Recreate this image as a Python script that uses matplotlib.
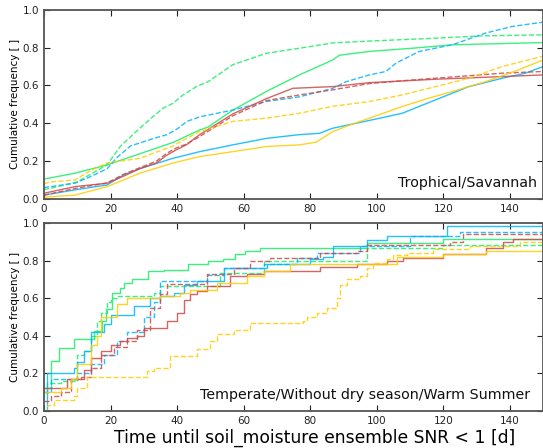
import matplotlib
matplotlib.use("Agg")
import matplotlib.pyplot as plt
import numpy as np

plt.rcParams['font.family'] = ['DejaVu Sans']

colors = {"green": "#1aee66", "blue": "#00b4ff", "red": "#cc4a4a", "yellow": "#ffcc00"}

# ---- Top panel: Trophical/Savannah (x, cumulative frequency) ----
top_green_solid_x = [0, 9.3, 19, 29, 39, 46.8, 49.3, 56.8, 66.8, 76.8, 86.8, 88.8, 97.8, 110.7, 122.7, 150]
top_green_solid_y = [0.105, 0.136, 0.18, 0.24, 0.30, 0.365, 0.38, 0.47, 0.568, 0.656, 0.735, 0.76, 0.78, 0.797, 0.815, 0.827]
top_green_dash_x = [0, 1.9, 10, 18.9, 20.4, 22.9, 24.9, 28.8, 32.8, 35.8, 38.8, 41.8, 45.8, 49.3, 56.8, 66.8, 76.8, 86.8, 97.8, 117.7, 130.7, 150]
top_green_dash_y = [0.05, 0.056, 0.09, 0.18, 0.215, 0.277, 0.31, 0.374, 0.436, 0.48, 0.506, 0.55, 0.594, 0.62, 0.71, 0.77, 0.797, 0.825, 0.835, 0.85, 0.862, 0.868]
top_blue_solid_x = [0, 9.3, 19, 23.9, 28.8, 38.8, 46.8, 56.8, 66.8, 76.8, 82.8, 86.8, 97.8, 107.7, 117.7, 127.7, 137.7, 144.7, 150]
top_blue_solid_y = [0.02, 0.048, 0.074, 0.127, 0.16, 0.215, 0.25, 0.286, 0.32, 0.34, 0.347, 0.374, 0.415, 0.453, 0.524, 0.594, 0.638, 0.665, 0.70]
top_blue_dash_x = [0, 9.3, 13, 19, 22, 26, 33, 37, 40, 43, 47, 56.8, 66.8, 76.8, 86.8, 90.8, 97.8, 102.8, 105.8, 112.8, 122.7, 132.7, 140.7, 150]
top_blue_dash_y = [0.06, 0.083, 0.11, 0.16, 0.22, 0.28, 0.32, 0.34, 0.37, 0.41, 0.435, 0.47, 0.515, 0.54, 0.585, 0.62, 0.656, 0.674, 0.718, 0.78, 0.815, 0.877, 0.912, 0.935]
top_red_solid_x = [0, 9.3, 19, 23.9, 28.8, 33.8, 36.8, 39.8, 42.8, 46.8, 56.8, 66.8, 74.8, 86.8, 97.8, 117.7, 137.7, 150]
top_red_solid_y = [0.03, 0.065, 0.083, 0.12, 0.16, 0.19, 0.23, 0.26, 0.286, 0.34, 0.45, 0.53, 0.585, 0.594, 0.615, 0.633, 0.647, 0.656]
top_red_dash_x = [0, 9.3, 19, 23.9, 28.8, 33.8, 36.8, 39.8, 42.8, 46.8, 56.8, 66.8, 76.8, 86.8, 97.8, 107.7, 137.7, 150]
top_red_dash_y = [0.02, 0.055, 0.085, 0.13, 0.165, 0.20, 0.24, 0.27, 0.29, 0.33, 0.44, 0.52, 0.55, 0.577, 0.61, 0.625, 0.665, 0.674]
top_yellow_solid_x = [0, 9.3, 19, 28.8, 38.8, 46.8, 56.8, 66.8, 76.8, 81.8, 86.8, 91.8, 97.8, 107.7, 115.7, 122.7, 132.7, 142.7, 150]
top_yellow_solid_y = [0.01, 0.02, 0.065, 0.136, 0.19, 0.224, 0.25, 0.277, 0.286, 0.30, 0.356, 0.39, 0.427, 0.489, 0.533, 0.568, 0.62, 0.683, 0.735]
top_yellow_dash_x = [0, 1.9, 9.3, 14, 19, 28.8, 38.8, 41.8, 46.8, 56.8, 66.8, 76.8, 86.8, 97.8, 107.7, 117.7, 127.7, 137.7, 150]
top_yellow_dash_y = [0.08, 0.09, 0.10, 0.15, 0.19, 0.215, 0.28, 0.31, 0.356, 0.41, 0.427, 0.453, 0.49, 0.515, 0.55, 0.594, 0.638, 0.70, 0.755]

# ---- Bottom panel: Temperate/Without dry season/Warm Summer ----
bot_green_solid_x = [0, 2, 4.5, 9, 15, 17.4, 18.5, 20.4, 23, 24, 26.4, 31.3, 36, 43.3, 49.3, 53.8, 57.3, 60.3, 64.8, 97, 120, 150]
bot_green_solid_y = [0.12, 0.265, 0.336, 0.38, 0.425, 0.48, 0.54, 0.63, 0.655, 0.68, 0.70, 0.743, 0.752, 0.782, 0.80, 0.81, 0.835, 0.85, 0.867, 0.893, 0.916, 0.916]
bot_green_dash_x = [0, 1, 5, 10, 12, 14, 16, 17, 19, 20, 22, 33, 35, 53, 66, 97, 120, 150]
bot_green_dash_y = [0.10, 0.15, 0.16, 0.30, 0.32, 0.40, 0.48, 0.52, 0.58, 0.60, 0.61, 0.63, 0.664, 0.734, 0.796, 0.867, 0.885, 0.885]
bot_blue_solid_x = [0, 1, 9, 10, 12, 14, 18, 20, 27, 32, 35, 39, 42, 46, 54, 67, 80, 84, 87, 97, 103, 121, 150]
bot_blue_solid_y = [0.0, 0.20, 0.23, 0.26, 0.32, 0.42, 0.46, 0.51, 0.56, 0.60, 0.61, 0.628, 0.672, 0.694, 0.76, 0.782, 0.81, 0.818, 0.876, 0.912, 0.93, 0.983, 0.983]
bot_blue_dash_x = [0, 2, 10, 14, 18, 22, 25, 30, 33, 35, 49, 54, 66, 76, 82, 95, 110, 125, 150]
bot_blue_dash_y = [0.10, 0.17, 0.20, 0.25, 0.30, 0.37, 0.42, 0.50, 0.58, 0.69, 0.725, 0.76, 0.782, 0.814, 0.84, 0.88, 0.93, 0.955, 0.955]
bot_red_solid_x = [0, 7, 12, 14, 17, 20, 23, 25, 28, 30, 37, 40, 42, 44, 46, 49, 56, 61, 66, 83, 94, 103, 108, 120, 133, 138, 141, 150]
bot_red_solid_y = [0.12, 0.17, 0.22, 0.28, 0.32, 0.35, 0.37, 0.39, 0.40, 0.44, 0.48, 0.52, 0.593, 0.62, 0.637, 0.664, 0.717, 0.73, 0.747, 0.765, 0.782, 0.80, 0.814, 0.835, 0.867, 0.90, 0.916, 0.916]
bot_red_dash_x = [0, 2, 5, 8, 11, 14, 17, 21, 25, 28, 32, 35, 37, 49, 57, 62, 68, 83, 94, 97, 122, 126, 150]
bot_red_dash_y = [0.05, 0.08, 0.10, 0.17, 0.18, 0.23, 0.30, 0.34, 0.37, 0.43, 0.55, 0.62, 0.676, 0.73, 0.76, 0.80, 0.814, 0.84, 0.853, 0.885, 0.90, 0.94, 0.94]
bot_yellow_solid_x = [0, 5, 8, 10, 14, 16, 17, 22, 25, 35, 41, 44, 52, 61, 66, 74, 106, 120, 133, 150]
bot_yellow_solid_y = [0.10, 0.12, 0.17, 0.25, 0.35, 0.40, 0.50, 0.57, 0.60, 0.61, 0.628, 0.646, 0.68, 0.717, 0.743, 0.78, 0.818, 0.835, 0.853, 0.853]
bot_yellow_dash_x = [0, 1, 3, 9, 10, 13, 31, 33, 38, 46, 50, 52, 57, 62, 78, 79, 82, 85, 88, 89, 91, 95, 97, 99, 103, 105, 109, 117, 128, 143, 150]
bot_yellow_dash_y = [0.0, 0.03, 0.06, 0.08, 0.12, 0.18, 0.21, 0.23, 0.29, 0.33, 0.37, 0.41, 0.43, 0.47, 0.478, 0.50, 0.52, 0.55, 0.60, 0.67, 0.70, 0.72, 0.76, 0.79, 0.81, 0.83, 0.84, 0.86, 0.88, 0.90, 0.90]

top_series = [
    (top_green_solid_x, top_green_solid_y, "green", "-"),
    (top_green_dash_x, top_green_dash_y, "green", "--"),
    (top_blue_solid_x, top_blue_solid_y, "blue", "-"),
    (top_blue_dash_x, top_blue_dash_y, "blue", "--"),
    (top_red_solid_x, top_red_solid_y, "red", "-"),
    (top_red_dash_x, top_red_dash_y, "red", "--"),
    (top_yellow_solid_x, top_yellow_solid_y, "yellow", "-"),
    (top_yellow_dash_x, top_yellow_dash_y, "yellow", "--"),
]
bot_series = [
    (bot_green_solid_x, bot_green_solid_y, "green", "-"),
    (bot_green_dash_x, bot_green_dash_y, "green", "--"),
    (bot_blue_solid_x, bot_blue_solid_y, "blue", "-"),
    (bot_blue_dash_x, bot_blue_dash_y, "blue", "--"),
    (bot_red_solid_x, bot_red_solid_y, "red", "-"),
    (bot_red_dash_x, bot_red_dash_y, "red", "--"),
    (bot_yellow_solid_x, bot_yellow_solid_y, "yellow", "-"),
    (bot_yellow_dash_x, bot_yellow_dash_y, "yellow", "--"),
]

xticks = [0, 20, 40, 60, 80, 100, 120, 140]
yticks = [0.0, 0.2, 0.4, 0.6, 0.8, 1.0]

fig = plt.figure(figsize=(5.43, 4.48), dpi=100)
ax1 = fig.add_axes([0.081, 0.556, 0.919, 0.422])
ax2 = fig.add_axes([0.081, 0.083, 0.919, 0.419])


def style(ax, label, label_x):
    ax.set_xlim(0, 150)
    ax.set_ylim(0, 1.0)
    ax.set_xticks(xticks)
    ax.set_yticks(yticks)
    ax.set_yticklabels([f"{v:.1f}" for v in yticks])
    ax.tick_params(direction="in", top=True, right=True, labelsize=7.5, length=4, colors="#222222")
    for s in ax.spines.values():
        s.set_color("#555555")
        s.set_linewidth(1.3)
    ax.set_ylabel("Cumulative frequency [ ]", fontsize=7.5, labelpad=2)
    ax.text(label_x, 0.045, label, transform=ax.transAxes, ha="right", va="bottom", fontsize=10.3, color="#111111")


for x, y, c, ls in top_series:
    ax1.plot(x, y, color=colors[c], linestyle=ls, lw=1.0, alpha=0.85)
for x, y, c, ls in bot_series:
    ax2.plot(x, y, drawstyle="steps-post", color=colors[c], linestyle=ls, lw=1.0, alpha=0.85)

style(ax1, "Trophical/Savannah", 0.988)
style(ax2, "Temperate/Without dry season/Warm Summer", 0.974)
ax2.set_xlabel("Time until soil_moisture ensemble SNR < 1 [d]", fontsize=12.3)
ax2.xaxis.set_label_coords(0.543, -0.095)

fig.savefig("out.png", dpi=100)
